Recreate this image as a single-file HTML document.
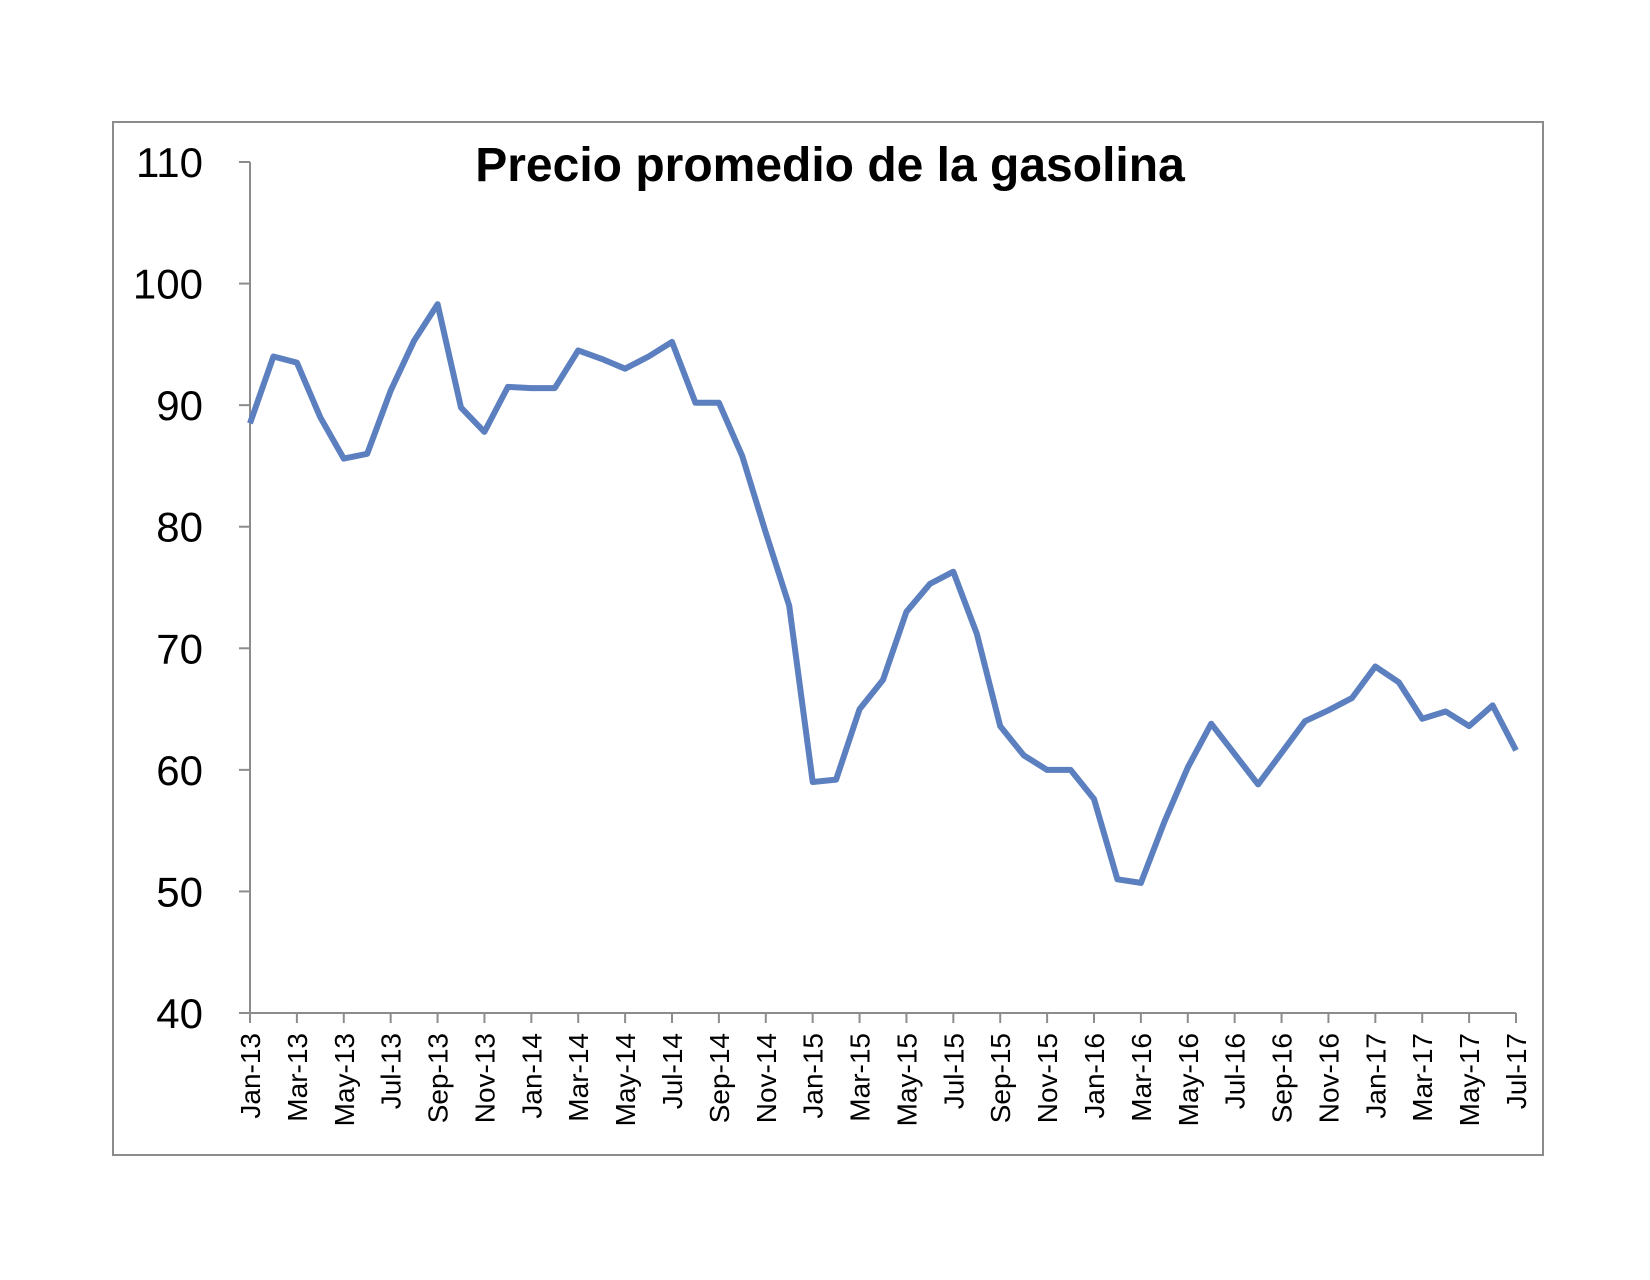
<!DOCTYPE html>
<html><head><meta charset="utf-8"><style>
html,body{margin:0;padding:0;background:#fff;}
svg text{font-family:"Liberation Sans",sans-serif;}
</style></head><body>
<svg id="chart" width="1650" height="1275" xmlns="http://www.w3.org/2000/svg">
<rect x="113" y="122" width="1430" height="1033" fill="#fff" stroke="#8c8c8c" stroke-width="2"/>
<text x="830" y="181" text-anchor="middle" font-size="48" font-weight="bold" fill="#000">Precio promedio de la gasolina</text>
<g id="axes"></g>
<path id="line" fill="none" stroke="#5b7fbf" stroke-width="6" stroke-linejoin="round"/>
</svg>
<script>
const months=["Jan","Feb","Mar","Apr","May","Jun","Jul","Aug","Sep","Oct","Nov","Dec"];
const yTicks=[40,50,60,70,80,90,100,110];
const values=[88.5,94,93.5,89,85.6,86,91.2,95.3,98.3,89.8,87.8,91.5,
91.4,91.4,94.5,93.8,93,94,95.2,90.2,90.2,85.8,79.5,73.5,
59,59.2,65,67.4,73,75.3,76.3,71.2,63.6,61.2,60,60,
57.6,51,50.7,55.7,60.2,63.8,61.3,58.8,61.4,64,64.9,65.9,
68.5,67.2,64.2,64.8,63.6,65.3,61.6];
const startYear=13;
const x0=250,x1=1516,yTop=162,yBot=1013,vMin=40,vMax=110;
const n=values.length;
function xs(i){return x0+(x1-x0)*i/(n-1);}
function ys(v){return yBot-(v-vMin)/(vMax-vMin)*(yBot-yTop);}
const NS="http://www.w3.org/2000/svg";
const g=document.getElementById('axes');
function mk(t,a){const e=document.createElementNS(NS,t);for(const k in a)e.setAttribute(k,a[k]);g.appendChild(e);return e;}
let e=mk('line',{x1:x0,y1:yTop,x2:x0,y2:yBot,stroke:'#8c8c8c','stroke-width':2});


e=mk('line',{x1:x0,y1:yBot,x2:x1,y2:yBot,stroke:'#8c8c8c','stroke-width':2});


yTicks.forEach(v=>{
 const y=ys(v);
 let t=mk('line',{x1:x0-11,y1:y,x2:x0,y2:y,stroke:'#8c8c8c','stroke-width':2});
 
 
 let l=mk('text',{x:203,y:y+15,'text-anchor':'end','font-size':42,fill:'#000'});
 l.textContent=v;
 
 
});
for(let i=0;i<n;i+=2){
 const x=xs(i);
 let t=mk('line',{x1:x,y1:yBot,x2:x,y2:yBot+10,stroke:'#8c8c8c','stroke-width':2});
 
 
 const lab=months[i%12]+"-"+(startYear+Math.floor(i/12));
 let l=mk('text',{x:0,y:0,'text-anchor':'end','font-size':28,fill:'#000',transform:`translate(${x+10},1033) rotate(-90)`});
 l.textContent=lab;
 
 
}
document.getElementById('line').setAttribute('d',values.map((v,i)=>(i?'L':'M')+xs(i).toFixed(1)+','+ys(v).toFixed(1)).join(''));
</script>
</body></html>
